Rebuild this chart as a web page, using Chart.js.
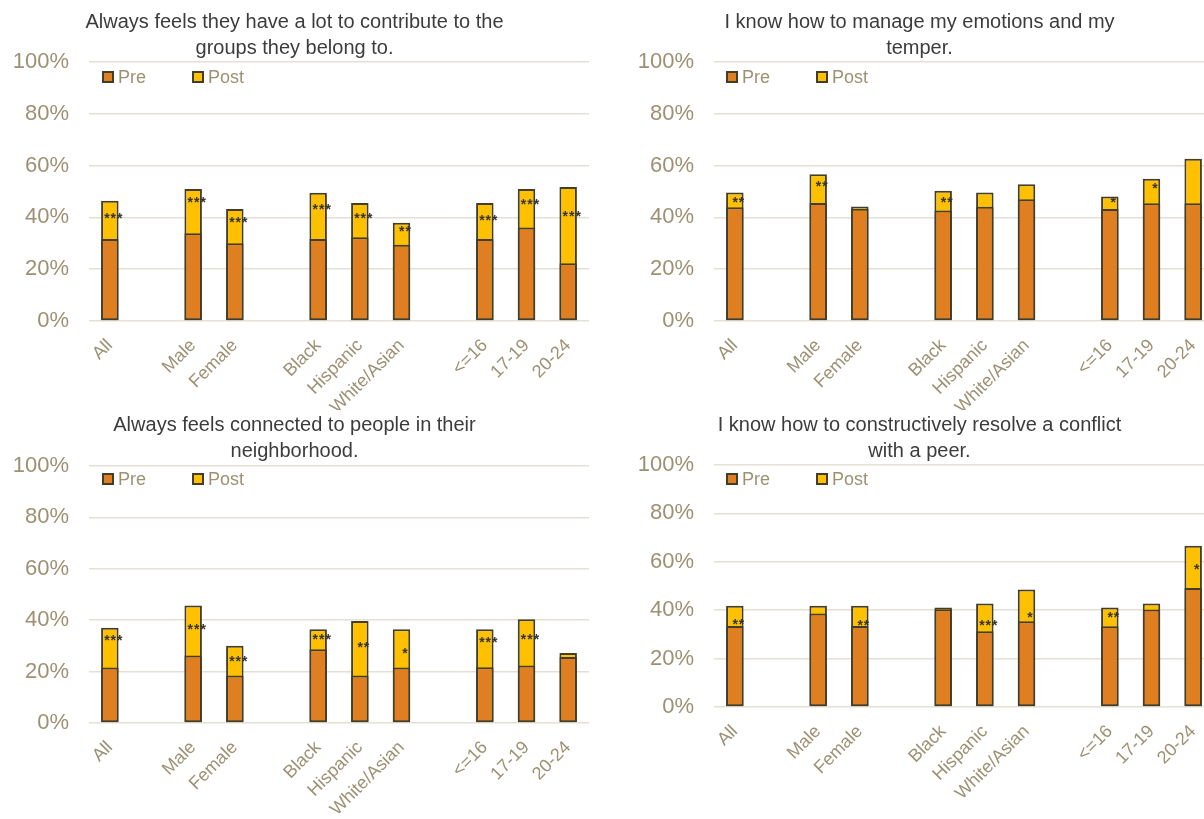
<!DOCTYPE html>
<html><head><meta charset="utf-8">
<script src="https://cdn.jsdelivr.net/npm/chart.js@4.4.1/dist/chart.umd.min.js"></script>
<style>
html,body{margin:0;padding:0;background:#fff;overflow:hidden;width:1204px;height:819px;position:relative;}
canvas{position:absolute;}
</style></head><body>
<canvas id="c1" width="600" height="410" style="left:0;top:0"></canvas>
<canvas id="c2" width="600" height="410" style="left:625px;top:0"></canvas>
<canvas id="c3" width="600" height="409" style="left:0;top:410px"></canvas>
<canvas id="c4" width="600" height="409" style="left:625px;top:410px"></canvas>
<script>
const categories = ['All','','Male','Female','','Black','Hispanic','White/Asian','','<=16','17-19','20-24'];
const seriesNames = ['Pre','Post'];
const yTicks = [0,20,40,60,80,100];

const title1 = ['Always feels they have a lot to contribute to the','groups they belong to.'];
const pre1  = [31.7,null,33.9,30.0,null,31.7,32.3,29.4,null,31.7,36.1,22.3];
const post1 = [46.4,null,51.0,43.2,null,49.5,45.6,37.9,null,45.6,51.0,51.7];
const sig1  = ['***','','***','***','','***','***','**','','***','***','***'];
const sigY1 = [40.0,null,46.1,38.7,null,43.7,40.1,34.9,null,39.2,45.5,40.9];

const title2 = ['I know how to manage my emotions and my','temper.'];
const pre2  = [43.9,null,45.6,43.3,null,42.7,44.1,47.0,null,43.2,45.5,45.5];
const post2 = [49.6,null,56.7,44.2,null,50.3,49.6,52.8,null,48.1,54.9,62.6];
const sig2  = ['**','','**','','','**','','','','*','*',''];
const sigY2 = [46.3,null,52.6,null,null,46.3,null,null,null,46.4,51.5,null];

const title3 = ['Always feels connected to people in their','neighborhood.'];
const pre3  = [21.6,null,26.3,18.5,null,28.7,18.5,21.6,null,21.7,22.4,25.7];
const post3 = [37.1,null,45.7,30.1,null,36.5,39.7,36.5,null,36.5,40.4,27.2];
const sig3  = ['***','','***','***','','***','**','*','','***','***',''];
const sigY3 = [32.6,null,37.0,24.6,null,33.2,30.0,27.6,null,31.8,33.1,null];

const title4 = ['I know how to constructively resolve a conflict','with a peer.'];
const pre4  = [33.5,null,38.6,33.5,null,40.4,31.3,35.4,null,33.4,40.3,49.2];
const post4 = [41.8,null,41.8,41.8,null,41.1,42.8,48.6,null,41.1,42.8,66.6];
const sig4  = ['**','','','**','','','***','*','','**','','*'];
const sigY4 = [34.8,null,null,34.2,null,null,34.2,37.5,null,37.5,null,57.2];

const PRE_COLOR = '#E07F22', POST_COLOR = '#FFC000', EDGE = '#433E2C';
const TAN = '#9E9173', TITLE_COLOR = '#3C3C3C';
const FONT = 'Arial, "Liberation Sans", sans-serif';

const sigPlugin = {
  id: 'sigLabels',
  afterDatasetsDraw(chart, args, opts) {
    const ctx = chart.ctx, xs = chart.scales.x, ys = chart.scales.y;
    ctx.save();
    ctx.fillStyle = '#353535';
    ctx.font = 'bold 14px ' + FONT;
    ctx.letterSpacing = '1px';
    ctx.textAlign = 'center';
    ctx.textBaseline = 'middle';
    opts.labels.forEach((t, i) => {
      if (!t || opts.pos[i] == null) return;
      ctx.fillText(t, xs.getPixelForValue(i) + 4, ys.getPixelForValue(opts.pos[i]) + 2);
    });
    ctx.restore();
  }
};

const legendPlugin = {
  id: 'innerLegend',
  afterDraw(chart, args, opts) {
    const ctx = chart.ctx, a = chart.chartArea;
    ctx.save();
    ctx.font = '18px ' + FONT;
    ctx.textBaseline = 'middle';
    ctx.textAlign = 'left';
    const y = a.top + opts.dy;
    chart.data.datasets.forEach((ds, i) => {
      const x = a.left + opts.dx[i];
      ctx.fillStyle = ds.backgroundColor;
      ctx.fillRect(x, y - 5, 10, 10);
      ctx.strokeStyle = EDGE;
      ctx.lineWidth = 2;
      ctx.strokeRect(x, y - 5, 10, 10);
      ctx.fillStyle = TAN;
      ctx.fillText(ds.label, x + 15, y + 1);
    });
    ctx.restore();
  }
};

function makeChart(id, title, pre, post, sig, sigY, cfg) {
  new Chart(document.getElementById(id), {
    type: 'bar',
    data: {
      labels: categories,
      datasets: [
        {label: seriesNames[0], data: pre, backgroundColor: PRE_COLOR, borderColor: EDGE, borderWidth: 2, borderSkipped: false},
        {label: seriesNames[1], data: post, backgroundColor: POST_COLOR, borderColor: EDGE, borderWidth: 2, borderSkipped: false}
      ]
    },
    options: {
      responsive: false,
      animation: false,
      devicePixelRatio: 1,
      layout: {padding: {left: 0, right: 11, top: 0, bottom: 0}},
      datasets: {bar: {barPercentage: 0.42, categoryPercentage: 1}},
      plugins: {
        legend: {display: false},
        tooltip: {enabled: false},
        title: {
          display: true, text: title, color: TITLE_COLOR,
          font: {family: FONT, size: 20, weight: 'normal', lineHeight: 1.3},
          padding: {top: cfg.titleTop, bottom: cfg.titleBottom}
        },
        sigLabels: {labels: sig, pos: sigY},
        innerLegend: {dy: cfg.legendDy, dx: cfg.legendDx}
      },
      scales: {
        x: {
          stacked: true,
          grid: {display: false},
          border: {display: false},
          ticks: {color: TAN, font: {family: FONT, size: 18}, maxRotation: 45, minRotation: 45, autoSkip: false, padding: 6},
          afterFit: s => { s.height = cfg.xHeight; }
        },
        y: {
          stacked: false,
          min: 0, max: 100,
          afterBuildTicks: s => { s.ticks = yTicks.map(v => ({value: v})); },
          grid: {color: '#E4E0D3', lineWidth: 1.5, drawTicks: false},
          border: {display: false},
          ticks: {color: TAN, font: {family: FONT, size: 22}, padding: 20, callback: v => v + '%'},
          afterFit: s => { s.width = 89; }
        }
      }
    },
    plugins: [sigPlugin, legendPlugin]
  });
}

makeChart('c1', title1, pre1, post1, sig1, sigY1, {titleTop: 9, titleBottom: 1, xHeight: 89, legendDy: 15, legendDx: [14, 104]});
makeChart('c2', title2, pre2, post2, sig2, sigY2, {titleTop: 9, titleBottom: 1, xHeight: 89, legendDy: 15, legendDx: [13, 103]});
makeChart('c3', title3, pre3, post3, sig3, sigY3, {titleTop: 2, titleBottom: 2, xHeight: 96, legendDy: 13, legendDx: [14, 104]});
makeChart('c4', title4, pre4, post4, sig4, sigY4, {titleTop: 2, titleBottom: 1, xHeight: 112, legendDy: 14, legendDx: [13, 103]});
</script>
</body></html>
